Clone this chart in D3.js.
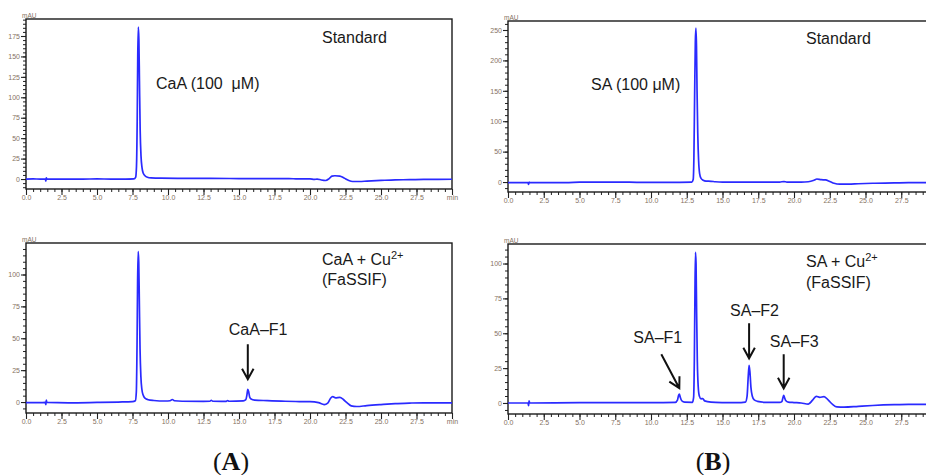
<!DOCTYPE html>
<html>
<head>
<meta charset="utf-8">
<script src="https://cdn.jsdelivr.net/npm/d3@7"></script>
<style>
  body { margin: 0; background: #fff; }
  svg { display: block; }
</style>
</head>
<body>
<svg id="fig" width="926" height="475"></svg>
<script>
// ---- Chromatogram traces: [retention time (min), absorbance (mAU)] ----
const caaStandard = [
  [0,0],[0.5,0.1],[1.0,0],[1.36,0],[1.4,-2.5],[1.43,1.5],[1.47,0],[2.5,0],[4,0],[5,0.1],[6,0],[7,0],
  [7.6,0.2],[7.72,2],[7.78,15],[7.83,70],[7.87,150],[7.91,186],[7.95,170],[7.99,120],[8.04,60],
  [8.1,28],[8.17,14],[8.26,7],[8.38,4],[8.55,2.2],[8.8,1.4],[9.5,1],[11,0.9],[13,0.8],[15,0.6],
  [17,0.6],[19,0.3],[20,0.2],[20.3,-0.5],[20.5,0],[20.8,-1.2],[21.1,-1.8],[21.35,0.5],[21.55,3.5],
  [21.75,4],[22.1,3.6],[22.4,1.2],[22.7,-1.5],[23,-3],[23.5,-3],[24,-2.5],[25,-1.7],[26,-1],
  [27,-0.8],[28,-0.4],[30,-0.3]
];
const caaCopper = [
  [0,-0.5],[1.0,-0.5],[1.36,-0.3],[1.4,-2],[1.43,1.5],[1.47,-0.3],[3,-0.6],[5,-0.3],[6.5,0],[7.5,0.3],
  [7.7,1],[7.77,8],[7.82,45],[7.86,95],[7.9,118],[7.94,110],[7.98,80],[8.03,42],[8.09,20],[8.16,10],
  [8.25,5.5],[8.38,3],[8.6,1.8],[9,1.2],[9.8,0.8],[10.15,1],[10.3,2],[10.45,1],[11,0.6],[12.5,0.5],
  [12.95,0.6],[13.05,1.4],[13.15,0.6],[14.1,0.5],[14.2,1.2],[14.3,0.6],[15.3,0.9],[15.48,1.8],
  [15.55,5],[15.62,10],[15.68,8],[15.75,4],[15.85,2.4],[16.1,1.5],[17,1.1],[18,0.7],[19,0.4],
  [20,0.3],[20.6,-0.5],[21,-2],[21.25,-0.8],[21.45,3],[21.6,4.2],[21.8,3.2],[22.1,3.6],[22.35,2],
  [22.6,-0.5],[22.9,-3],[23.3,-3.5],[24,-2.8],[25,-2],[26,-1.3],[27,-0.8],[28,-0.7],[30,-0.7]
];
const saStandard = [
  [0,-1],[1.4,-1],[1.44,-4],[1.48,0],[1.52,-1],[4,-1],[5,-0.3],[6,0],[8,0],[9,-0.5],[12,-0.5],
  [12.85,-0.3],[12.95,4],[13.0,40],[13.05,140],[13.1,230],[13.14,253],[13.18,225],[13.22,150],
  [13.27,80],[13.33,35],[13.4,14],[13.5,6],[13.65,3],[13.85,1.5],[14.2,1.2],[14.5,0.5],[15,0],
  [17,0],[19,0],[19.3,0.8],[19.5,0],[20.5,0],[21,0.5],[21.4,3],[21.6,5],[21.9,3.8],[22.2,3.5],
  [22.5,1],[22.8,-2],[23.2,-3.5],[23.8,-3.5],[24.5,-2.8],[25.5,-2],[27,-1.5],[28,-1],[30,-1]
];
const saCopper = [
  [0,0],[1.4,0],[1.44,-2],[1.47,1.5],[1.52,0],[5,0.2],[10,0.2],[11.7,0.4],[11.85,2],[11.93,5.5],
  [11.98,6.3],[12.05,4],[12.15,1.6],[12.35,0.6],[12.9,0.5],[12.98,4],[13.03,30],[13.07,75],
  [13.11,108],[13.15,100],[13.19,65],[13.24,30],[13.3,12],[13.38,5],[13.5,3],[13.62,3.2],
  [13.75,1.5],[14.2,0.6],[15,0.3],[16,0.2],[16.6,0.6],[16.72,5],[16.8,19],[16.86,27],[16.92,22],
  [16.99,11],[17.08,5],[17.22,2.2],[17.45,1.2],[18,0.5],[19,0.4],[19.15,1],[19.23,4],[19.28,5.5],
  [19.34,3.8],[19.42,1.8],[19.6,0.6],[20,0.3],[20.5,0],[21,-0.8],[21.3,2],[21.55,4.8],[21.8,4],
  [22.1,4.6],[22.4,2],[22.7,-1],[23,-2.8],[23.5,-3],[24.5,-2.4],[25.5,-1.8],[27,-1.2],[28,-1],[30,-1]
];

// ---- Axis ticks ----
const timeTicks = [0, 2.5, 5, 7.5, 10, 12.5, 15, 17.5, 20, 22.5, 25, 27.5, 30];
const timeTickLabels = ["0.0","2.5","5.0","7.5","10.0","12.5","15.0","17.5","20.0","22.5","25.0","27.5","min"];
const caaStandardTicks = [0, 25, 50, 75, 100, 125, 150, 175];
const caaCopperTicks = [0, 25, 50, 75, 100];
const saStandardTicks = [0, 50, 100, 150, 200, 250];
const saCopperTicks = [0, 25, 50, 75, 100];

// ---- Peak annotations (label text and the retention time / height of the marked peak) ----
const caaProducts = [{ name: "CaA–F1", t: 15.62, v: 10 }];
const saProducts = [
  { name: "SA–F1", t: 11.98, v: 6.3 },
  { name: "SA–F2", t: 16.86, v: 27 },
  { name: "SA–F3", t: 19.28, v: 5.5 }
];

const W = 926;
const svg = d3.select("#fig");
const SANS = "'Liberation Sans', Arial, sans-serif";
const TRACE = "#2a2aff";
const TICKTXT = "#85725f";

const panels = [
  { key: "caaStd", data: caaStandard, left: 26, right: 452, top: 19, bottom: 189, yDom: [-12.2, 195.8],
    ticks: caaStandardTicks, minorStep: 5 },
  { key: "caaCu", data: caaCopper, left: 26, right: 452, top: 243, bottom: 413, yDom: [-8.6, 124.7],
    ticks: caaCopperTicks, minorStep: 5 },
  { key: "saStd", data: saStandard, left: 508, right: 937, top: 21, bottom: 192, yDom: [-16.4, 264.8],
    ticks: saStandardTicks, minorStep: 10 },
  { key: "saCu", data: saCopper, left: 508, right: 937, top: 244, bottom: 414, yDom: [-7.9, 114],
    ticks: saCopperTicks, minorStep: 5 }
];

function minorValues(lo, hi, step) {
  const out = [];
  for (let v = Math.ceil(lo / step) * step; v <= hi + 1e-9; v += step) out.push(+v.toFixed(4));
  return out;
}

panels.forEach(p => {
  const x = d3.scaleLinear().domain([0, 30]).range([p.left, p.right]);
  const y = d3.scaleLinear().domain(p.yDom).range([p.bottom, p.top]);
  p.x = x; p.y = y;
  const g = svg.append("g").attr("class", "panel-" + p.key);

  // minor time ticks
  const xMinor = g.append("g").attr("transform", `translate(0,${p.bottom})`)
    .call(d3.axisBottom(x).tickValues(minorValues(0, 30, 0.5)).tickSize(3).tickFormat(""));
  xMinor.select(".domain").remove();
  xMinor.selectAll("line").attr("stroke", "#222").attr("stroke-width", 1);

  // major time ticks with labels (labels that would fall past the page edge are left out)
  const visibleTicks = timeTicks.filter(t => x(t) + 8 <= W);
  const xMajor = g.append("g").attr("transform", `translate(0,${p.bottom})`)
    .call(d3.axisBottom(x).tickValues(timeTicks).tickSize(6).tickPadding(0.5)
      .tickFormat((d, i) => visibleTicks.includes(d) ? timeTickLabels[i] : ""));
  xMajor.select(".domain").remove();
  xMajor.selectAll("line").attr("stroke", "#222").attr("stroke-width", 1.1);
  xMajor.selectAll("text").attr("font-family", SANS).attr("font-size", 7).attr("fill", TICKTXT);

  // minor absorbance ticks
  const yMinor = g.append("g").attr("transform", `translate(${p.left},0)`)
    .call(d3.axisLeft(y).tickValues(minorValues(p.yDom[0], p.yDom[1], p.minorStep)).tickSize(3).tickFormat(""));
  yMinor.select(".domain").remove();
  yMinor.selectAll("line").attr("stroke", "#222").attr("stroke-width", 1);

  // major absorbance ticks with labels
  const yMajor = g.append("g").attr("transform", `translate(${p.left},0)`)
    .call(d3.axisLeft(y).tickValues(p.ticks).tickSize(5).tickPadding(1).tickFormat(d3.format("d")));
  yMajor.select(".domain").remove();
  yMajor.selectAll("line").attr("stroke", "#222").attr("stroke-width", 1.1);
  yMajor.selectAll("text").attr("font-family", SANS).attr("font-size", 7).attr("fill", TICKTXT);

  // unit label
  g.append("text").attr("x", p.left - 4).attr("y", p.top - 1)
    .attr("font-family", SANS).attr("font-size", 6.5).attr("fill", TICKTXT).text("mAU");

  // frame
  g.append("rect").attr("x", p.left).attr("y", p.top)
    .attr("width", p.right - p.left).attr("height", p.bottom - p.top)
    .attr("fill", "none").attr("stroke", "#1a1a1a").attr("stroke-width", 1.4);

  // trace
  g.append("path").datum(p.data)
    .attr("d", d3.line().x(d => x(d[0])).y(d => y(d[1])).curve(d3.curveMonotoneX))
    .attr("fill", "none").attr("stroke", TRACE).attr("stroke-width", 1.7)
    .attr("stroke-linejoin", "round");
});

// ---- Text labels ----
function label(x, y, parts, size = 16) {
  const t = svg.append("text").attr("x", x).attr("y", y)
    .attr("font-family", SANS).attr("font-size", size).attr("fill", "#1a1a1a");
  parts.forEach(pt => {
    const s = t.append("tspan").text(pt.text);
    if (pt.sup) s.attr("font-size", 11).attr("dy", -6);
  });
  return t;
}

label(322, 43, [{ text: "Standard" }]);
label(156, 89, [{ text: "CaA (100\u00a0\u00a0μM)" }]);
label(322, 265, [{ text: "CaA + Cu" }, { text: "2+", sup: true }]);
label(322, 285, [{ text: "(FaSSIF)" }]);

label(806, 44, [{ text: "Standard" }]);
label(591, 90, [{ text: "SA (100\u00a0μM)" }]);
label(806, 267, [{ text: "SA + Cu" }, { text: "2+", sup: true }]);
label(806, 288, [{ text: "(FaSSIF)" }]);

// ---- Arrows pointing at the new product peaks ----
function arrow(x1, y1, x2, y2) {
  const ang = Math.atan2(y2 - y1, x2 - x1);
  const L = 12, A = 0.5;
  const a1 = [x2 - L * Math.cos(ang - A), y2 - L * Math.sin(ang - A)];
  const a2 = [x2 - L * Math.cos(ang + A), y2 - L * Math.sin(ang + A)];
  svg.append("path")
    .attr("d", `M${x1},${y1}L${x2},${y2}M${a1[0]},${a1[1]}L${x2},${y2}L${a2[0]},${a2[1]}`)
    .attr("fill", "none").attr("stroke", "#111").attr("stroke-width", 2)
    .attr("stroke-linecap", "butt").attr("stroke-linejoin", "miter");
}

{
  const p = panels[1];
  const f1 = caaProducts[0];
  const ax = p.x(f1.t), tip = p.y(f1.v) - 10;
  arrow(ax, tip - 35, ax, tip);
  label(ax - 19, tip - 44, [{ text: f1.name }]);
}
{
  const p = panels[3];
  const [f1, f2, f3] = saProducts;
  // SA-F1: slanted arrow
  let tx = p.x(f1.t), ty = p.y(f1.v) - 6;
  arrow(tx - 18, ty - 34, tx, ty);
  label(tx - 46, ty - 45, [{ text: f1.name }]);
  // SA-F2
  tx = p.x(f2.t); ty = p.y(f2.v) - 7;
  arrow(tx, ty - 35, tx, ty);
  label(tx - 19, ty - 42, [{ text: f2.name }]);
  // SA-F3
  tx = p.x(f3.t); ty = p.y(f3.v) - 7;
  arrow(tx, ty - 34, tx, ty);
  label(tx - 14, ty - 41, [{ text: f3.name }]);
}

// ---- Panel letters ----
function panelLetter(cx, letter) {
  const t = svg.append("text").attr("x", cx).attr("y", 470).attr("text-anchor", "middle")
    .attr("font-family", "'Liberation Serif', 'Times New Roman', serif").attr("font-size", 26)
    .attr("fill", "#111");
  t.append("tspan").text("(");
  t.append("tspan").attr("font-weight", "bold").text(letter);
  t.append("tspan").text(")");
}
panelLetter(231, "A");
panelLetter(713, "B");
</script>
</body>
</html>
